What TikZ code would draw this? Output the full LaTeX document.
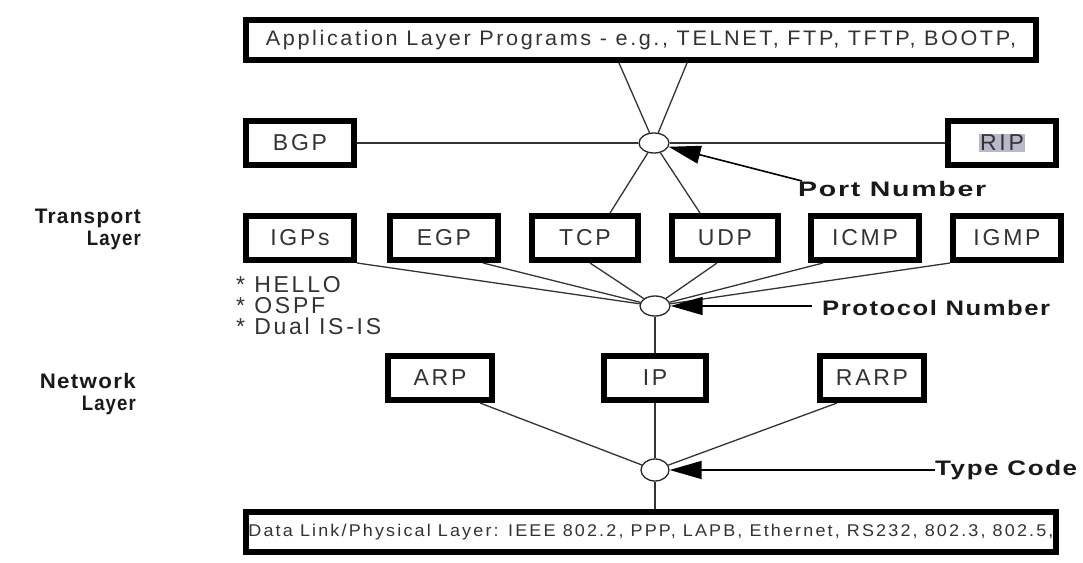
\documentclass[tikz,border=0pt]{standalone}
\usepackage{fontspec}
\setmainfont{Liberation Sans}
\newfontfamily\boxfont[LetterSpace=12]{Liberation Sans}
\newfontfamily\lblfont[LetterSpace=6]{Liberation Sans}
\usetikzlibrary{shapes.geometric,shadows,arrows.meta,calc}
\newcommand\stretchto[2]{\resizebox{#1}{\height}{#2}}
\definecolor{selgray}{RGB}{184,184,204}
\begin{document}
\begin{tikzpicture}[x=1pt,y=-1pt,
 box/.style={draw=black, line width=6pt, fill=white, inner sep=0pt, minimum height=44pt,
   font=\boxfont\fontsize{23}{24}\selectfont, text=black!80,
   drop shadow={shadow xshift=2pt, shadow yshift=-2pt, fill=black, opacity=1}},
 hub/.style={draw=black!85, line width=1.3pt, ellipse, inner sep=0pt, minimum width=30pt, minimum height=20pt, fill=white},
 conn/.style={draw=black!80, line width=1.3pt},
 ptr/.style={draw=black, line width=1.6pt, -{Triangle[length=32pt,width=18pt]}},
 lbl/.style={font=\lblfont\bfseries\fontsize{21}{22}\selectfont, inner sep=0pt, text=black!90},
 note/.style={font=\boxfont\fontsize{23}{21}\selectfont, inner sep=0pt, align=left, text=black!80},
]
\useasboundingbox (0,0) rectangle (1083,562);

\node[hub] (port) at (654,143) {};
\node[hub] (prot) at (655,306) {};
\node[hub, minimum width=28pt, minimum height=22pt] (type) at (655,470) {};

\node[box, minimum width=790pt, minimum height=40pt, font=\boxfont\fontsize{21}{22}\selectfont] (app) at (641,40) {\stretchto{750pt}{Application Layer Programs - e.g., TELNET, FTP, TFTP, BOOTP,}};

\node[box, minimum width=108pt] (bgp) at (300,143) {BGP};
\node[box, minimum width=108pt] (rip) at (1002,143) {{\setlength\fboxsep{1pt}\colorbox{selgray}{RIP}}};

\node[box, minimum width=108pt, minimum height=44pt] (igps) at (300,238) {IGPs};
\node[box, minimum width=108pt, minimum height=44pt] (egp) at (444,238) {EGP};
\node[box, minimum width=106pt, minimum height=44pt] (tcp) at (585,238) {TCP};
\node[box, minimum width=106pt, minimum height=44pt] (udp) at (725,238) {UDP};
\node[box, minimum width=108pt, minimum height=44pt] (icmp) at (865,238) {ICMP};
\node[box, minimum width=108pt, minimum height=44pt] (igmp) at (1007,238) {IGMP};

\node[box, minimum width=104pt, minimum height=44pt] (arp) at (440,378) {ARP};
\node[box, minimum width=102pt, minimum height=44pt] (ip) at (655,378) {IP};
\node[box, minimum width=104pt, minimum height=44pt] (rarp) at (872,378) {RARP};

\node[box, minimum width=810pt, minimum height=40pt, font=\boxfont\fontsize{17}{18}\selectfont] (dl) at (651,532) {\stretchto{805pt}{Data Link/Physical Layer: IEEE 802.2, PPP, LAPB, Ethernet, RS232, 802.3, 802.5,}};

\draw[conn] (bgp) -- (port);
\draw[conn] (port) -- (rip);
\draw[conn] ($(app.south)+(-22,0)$) -- (port);
\draw[conn] ($(app.south)+(46,0)$) -- (port);
\draw[conn] (port) -- ($(tcp.north)+(25,0)$);
\draw[conn] (port) -- ($(udp.north)+(-25,0)$);

\draw[conn] (igps.south east) -- (prot);
\draw[conn] ($(egp.south east)+(-18,0)$) -- (prot);
\draw[conn] ($(tcp.south)+(5,0)$) -- (prot);
\draw[conn] ($(udp.south)+(-8,0)$) -- (prot);
\draw[conn] ($(icmp.south west)+(15,0)$) -- (prot);
\draw[conn] (igmp.south west) -- (prot);
\draw[conn] (prot) -- (ip);

\draw[conn] ($(arp.south east)+(-15,0)$) -- (type);
\draw[conn] ($(rarp.south west)+(20,0)$) -- (type);
\draw[conn] (ip) -- (type);
\draw[conn] (type) -- (type |- dl.north);

\node[lbl, anchor=west] (pnum) at (798,189) {\stretchto{188pt}{Port Number}};
\coordinate (pnt) at (802,181);
\draw[ptr] (pnt) -- (port);

\node[lbl, anchor=west] (protn) at (822,308) {\stretchto{228pt}{Protocol Number}};
\coordinate (prt) at (812,306);
\draw[ptr] (prt) -- (prot);

\node[lbl, anchor=west] (tcode) at (935,470) {\stretchto{142pt}{Type Code}};
\coordinate (tct) at (935,470);
\draw[ptr] (tct) -- (type);

\node[note, anchor=north west] (igpnote) at (236,276) {* HELLO\\* OSPF\\* Dual IS-IS};

\node[lbl, align=right, anchor=east] (tl) at (141,229) {\stretchto{106pt}{Transport}\\\stretchto{54pt}{Layer}};
\node[lbl, align=right, anchor=east] (nl) at (136,394) {\stretchto{96pt}{Network}\\\stretchto{54pt}{Layer}};
\end{tikzpicture}
\end{document}
